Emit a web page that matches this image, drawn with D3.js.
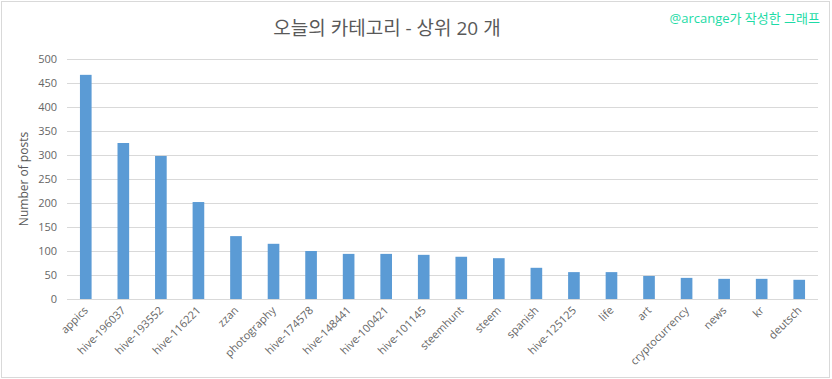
<!DOCTYPE html>
<html lang="ko">
<head>
<meta charset="UTF-8">
<title>오늘의 카테고리</title>
<style>
  body { margin: 0; background: #fff; }
  svg text { font-family: "Open Sans", "Noto Sans CJK KR", sans-serif; }
</style>
</head>
<body>
<div id="chart"></div>
<script src="https://cdn.jsdelivr.net/npm/d3@7"></script>
<script>
// data
const categories = ['appics','hive-196037','hive-193552','hive-116221','zzan','photography',
  'hive-174578','hive-148441','hive-100421','hive-101145','steemhunt','steem','spanish',
  'hive-125125','life','art','cryptocurrency','news','kr','deutsch']
const posts = [467,325,298,202,131,115,100,94,94,92,88,85,65,56,56,48,44,42,42,40]
const yTicks = [0,50,100,150,200,250,300,350,400,450,500]

const titleText = '오늘의 카테고리 - 상위 20 개'
const creditText = '@arcange가 작성한 그래프'
const yLabel = 'Number of posts'

const width = 832, height = 379
const margin = {top: 59, right: 14, bottom: 80, left: 67}

const svg = d3.select('#chart').append('svg')
  .attr('width', width)
  .attr('height', height)

// chart frame
svg.append('rect')
  .attr('x', 1.5).attr('y', 1.5)
  .attr('width', width - 4).attr('height', height - 3)
  .attr('fill', '#fff')
  .attr('stroke', '#d9d9d9')

const x = d3.scaleBand()
  .domain(categories)
  .range([margin.left, width - margin.right])
  .paddingInner(0.69)
  .paddingOuter(0.345)

const y = d3.scaleLinear()
  .domain([0, 500])
  .range([height - margin.bottom, margin.top])

// gridlines
svg.append('g')
  .selectAll('line')
  .data(yTicks)
  .join('line')
  .attr('x1', margin.left)
  .attr('x2', width - margin.right)
  .attr('y1', d => Math.round(y(d)) + 0.5)
  .attr('y2', d => Math.round(y(d)) + 0.5)
  .attr('stroke', '#d9d9d9')
  .attr('stroke-width', 1)

// y axis labels
const yAxis = d3.axisLeft(y).tickValues(yTicks).tickSize(0).tickPadding(10)
svg.append('g')
  .attr('transform', `translate(${margin.left},0)`)
  .call(yAxis)
  .call(g => g.select('.domain').remove())
  .call(g => g.selectAll('text')
    .attr('fill', '#666')
    .style('font-size', '11px'))

// bars
svg.append('g')
  .selectAll('rect')
  .data(categories)
  .join('rect')
  .attr('x', d => x(d))
  .attr('y', (d, i) => y(posts[i]))
  .attr('width', x.bandwidth())
  .attr('height', (d, i) => y(0) - y(posts[i]))
  .attr('fill', '#5b9bd5')

// x axis labels, rotated
const xAxis = d3.axisBottom(x).tickSize(0).tickPadding(0)
svg.append('g')
  .attr('transform', `translate(0,${y(0)})`)
  .call(xAxis)
  .call(g => g.select('.domain').remove())
  .call(g => g.selectAll('text')
    .attr('fill', '#666')
    .style('font-size', '11px')
    .attr('text-anchor', 'end')
    .attr('dy', 0)
    .attr('transform', 'translate(3,12) rotate(-45)'))

// y title
svg.append('text')
  .attr('transform', `translate(28,${(margin.top + y(0)) / 2}) rotate(-90)`)
  .attr('text-anchor', 'middle')
  .attr('fill', '#595959')
  .style('font-size', '12px')
  .text(yLabel)

// title
svg.append('text')
  .attr('x', 387)
  .attr('y', 35)
  .attr('text-anchor', 'middle')
  .attr('fill', '#595959')
  .style('font-size', '19px')
  .text(titleText)

// credit
svg.append('text')
  .attr('x', 820)
  .attr('y', 23)
  .attr('text-anchor', 'end')
  .attr('fill', '#1ddba6')
  .style('font-size', '13px')
  .text(creditText)
</script>
</body>
</html>
